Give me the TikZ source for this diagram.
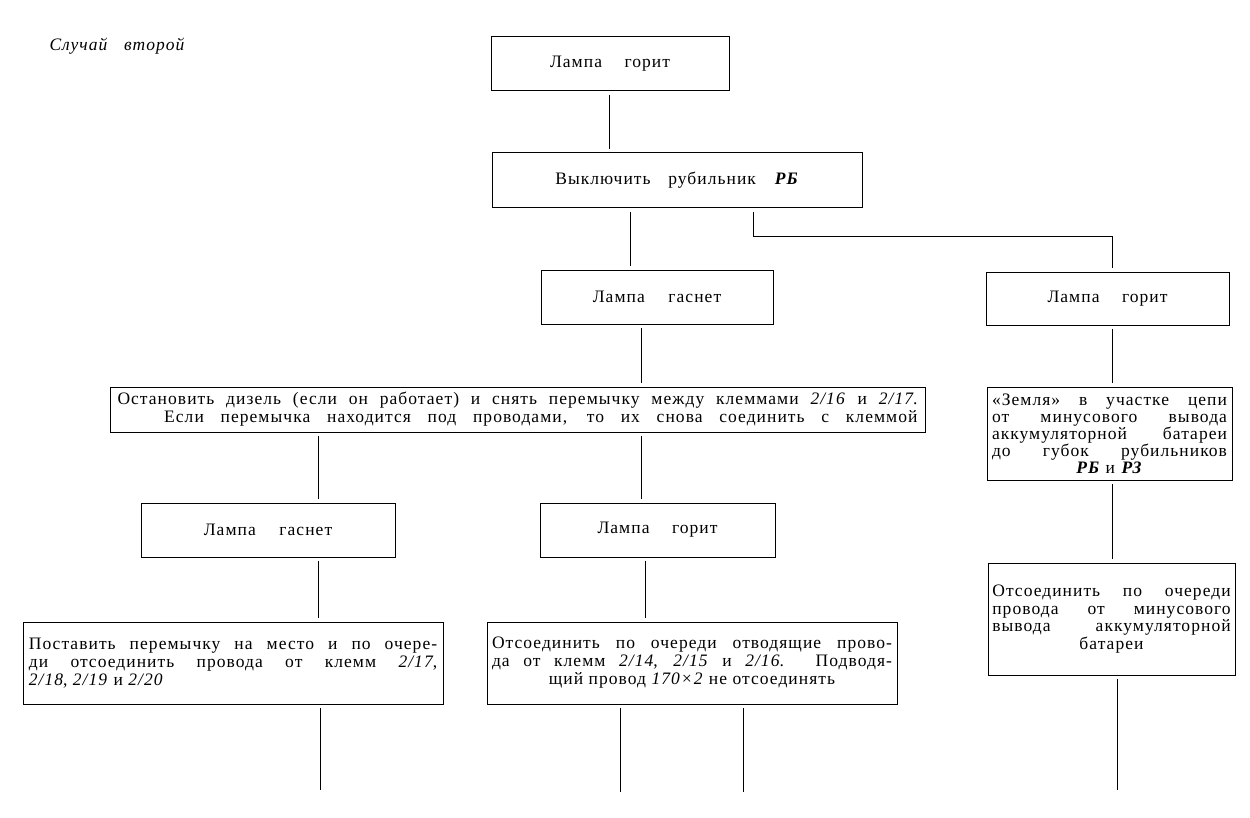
\documentclass[tikz,border=0pt]{standalone}
\usepackage{fontspec}
\setmainfont{Liberation Serif}
\newfontfamily\tf[LetterSpace=6]{Liberation Serif}
\newcommand{\jl}[2]{\makebox[#1][s]{#2}}
\begin{document}
\begin{tikzpicture}[x=0.6pt,y=-0.6pt,
  box/.style={draw, line width=0.6pt, inner sep=0pt, align=center, font=\tf\fontsize{10.5}{10.8}\selectfont},
  conn/.style={line width=0.6pt, shorten <=2pt, shorten >=2pt},
  free/.style={line width=0.6pt, shorten <=2pt}]
\useasboundingbox (0,0) rectangle (1250,818);

\node[font=\tf\fontsize{10.5}{10.8}\selectfont\itshape] (title) at (117,46) {\jl{81pt}{Случай второй}};

\node[box, minimum width=142.8pt, minimum height=32.4pt] (A) at (610,64) {\jl{72pt}{Лампа горит}};
\node[box, minimum width=222pt, minimum height=33pt] (B) at (677,180.5) {\jl{146pt}{Выключить рубильник \textbf{\textit{РБ}}}};
\node[box, minimum width=139.2pt, minimum height=32.4pt] (C) at (657,297) {\jl{77pt}{Лампа гаснет}};
\node[box, minimum width=145.8pt, minimum height=31.8pt] (D) at (1107.5,298.5) {\jl{72pt}{Лампа горит}};
\node[box, minimum width=147pt, minimum height=55.8pt, font=\tf\fontsize{10.5}{10.2}\selectfont] (E) at (1109.5,433.5)
  {\jl{141pt}{«Земля» в участке цепи}\\
   \jl{141pt}{от минусового вывода}\\
   \jl{141pt}{аккумуляторной батареи}\\
   \jl{141pt}{до губок рубильников}\\
   \textbf{\textit{РБ}} и \textbf{\textit{РЗ}}};
\node[box, minimum width=148.2pt, minimum height=67.2pt, font=\tf\fontsize{10.5}{10.5}\selectfont] (F) at (1111.5,619)
  {\jl{143pt}{Отсоединить по очереди}\\
   \jl{143pt}{провода от минусового}\\
   \jl{143pt}{вывода аккумуляторной}\\
   батареи};
\node[box, minimum width=489pt, minimum height=27pt] (G) at (517.5,409.5)
  {\jl{480pt}{Остановить дизель (если он работает) и снять перемычку между клеммами \textit{2/16} и \textit{2/17}.}\\
   \makebox[480pt][r]{\jl{452pt}{Если перемычка находится под проводами, то их снова соединить с клеммой}}};
\node[box, minimum width=152.4pt, minimum height=32.4pt] (H) at (268,530) {\jl{77pt}{Лампа гаснет}};
\node[box, minimum width=141pt, minimum height=32.4pt] (I) at (657.5,530) {\jl{72pt}{Лампа горит}};
\node[box, minimum width=252pt, minimum height=49.2pt] (J) at (233,663)
  {\jl{245pt}{Поставить перемычку на место и по очере-}\\
   \jl{245pt}{ди отсоединить провода от клемм \textit{2/17},}\\
   \makebox[245pt][l]{\textit{2/18}, \textit{2/19} и \textit{2/20}}};
\node[box, minimum width=246pt, minimum height=49.2pt] (K) at (692,663)
  {\jl{240pt}{Отсоединить по очереди отводящие прово-}\\
   \jl{240pt}{да от клемм \textit{2/14}, \textit{2/15} и \textit{2/16}. Подводя-}\\
   щий провод \textit{170×2} не отсоединять};

\coordinate (xab) at (609,0);
\coordinate (xbc) at (630,0);
\coordinate (xbd) at (753,0);
\coordinate (bend) at (1112,237);
\coordinate (xcg) at (641,0);
\coordinate (xgh) at (318,0);
\coordinate (xgi) at (641,0);
\coordinate (xik) at (645,0);
\coordinate (endJ) at (320,790);
\coordinate (endK1) at (620,792);
\coordinate (endK2) at (743,792);
\coordinate (endF) at (1117,790);

\draw[conn] (A.south -| xab) -- (B.north -| xab);
\draw[conn] (B.south -| xbc) -- (C.north -| xbc);
\draw[conn] (B.south -| xbd) |- (bend) -- (D.north -| bend);
\draw[conn] (C.south -| xcg) -- (G.north -| xcg);
\draw[conn] (G.south -| xgh) -- (H.north -| xgh);
\draw[conn] (G.south -| xgi) -- (I.north -| xgi);
\draw[conn] (H.south -| xgh) -- (J.north -| xgh);
\draw[conn] (I.south -| xik) -- (K.north -| xik);
\draw[conn] (D.south -| bend) -- (E.north -| bend);
\draw[conn] (E.south -| bend) -- (F.north -| bend);
\draw[free] (J.south -| endJ) -- (endJ);
\draw[free] (K.south -| endK1) -- (endK1);
\draw[free] (K.south -| endK2) -- (endK2);
\draw[free] (F.south -| endF) -- (endF);
\end{tikzpicture}
\end{document}
